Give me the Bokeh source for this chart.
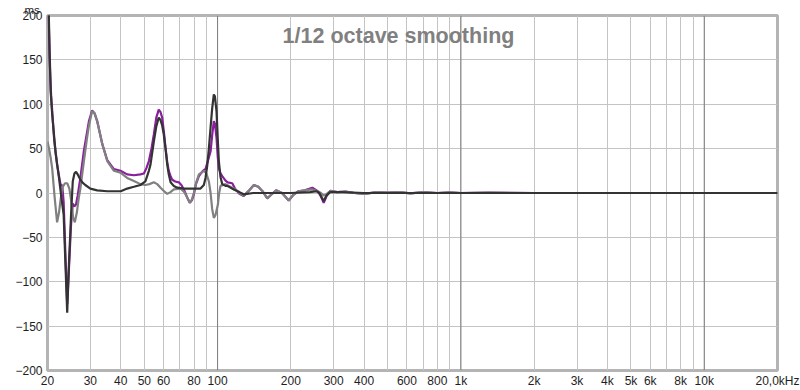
from bokeh.plotting import figure
from bokeh.models import Range1d, FixedTicker, Span, Label, Title
from bokeh.embed import file_html
from bokeh.resources import INLINE

# ---- data ----
purple_hz = [20.0, 20.4, 20.7, 21.0, 21.3, 21.9, 22.6, 23.0, 23.3, 23.7, 24.1, 24.5, 25.0, 25.4, 25.8, 26.2, 26.6,
             27.3, 28.2, 29.6, 30.5, 31.2, 32.0, 33.6, 35.2, 37.5, 39.9, 42.5, 45.3, 48.2, 49.8, 51.0, 52.2, 53.5,
             54.7, 56.0, 57.3, 58.3, 59.2, 60.1, 61.1, 62.1, 63.0, 64.1, 65.1, 67.0, 69.3, 71.0, 72.7, 75.0, 76.9,
             78.5, 79.9, 81.5, 83.8, 87.0, 89.2, 91.0, 93.6, 95.0, 96.5, 97.5, 99.0, 100.2, 101.2, 102.8, 104.5,
             107.8, 110, 114.9, 118.5, 123, 128, 135, 141, 147, 153, 160, 166, 174, 184, 196, 205, 215, 228, 245,
             258, 266, 273, 281, 291, 310, 336, 365, 402, 450, 500, 560, 620, 700, 800, 900, 1000, 1300, 2000, 20000]
purple_ms = [260, 150, 110, 85, 60, 32, 10, 8, -10, -70, -125, -85, -35, -12, -15, -13, -3,
             17, 47, 81, 93, 90, 81, 55, 37, 27, 25, 21, 20, 21, 22, 28, 36, 50,
             66, 85, 94, 91, 85, 70, 51, 35, 25, 19, 15, 13, 12, 9, 4, -5, -11,
             -8, -1.5, 10, 19, 25, 27, 35, 47, 65, 81, 78, 62, 40, 28, 22, 19,
             14, 12, 11, 4, -1, -3.5, 3, 9, 7, 2, -6, -2, 3, 0, -8.5, -2, 2, 3, 6,
             2, -4, -11, -3, 2.5, 1, 1.5, 0, -1, 1, 0.5, 1, -0.5, 1, 0, 0.8, 0, 0.5, 0, 0]

grey_hz = [20.0, 20.3, 20.6, 20.9, 21.4, 21.9, 22.3, 22.7, 23.0, 23.6, 24.1, 24.6, 25.0, 25.5, 25.9, 26.4, 26.9,
           27.3, 28.2, 29.0, 29.6, 30.5, 31.2, 32.0, 33.6, 35.2, 37.5, 39.9, 42.5, 45.3, 48.2, 50.5, 52.5, 54.7,
           56.5, 58.3, 60.3, 62.1, 64.0, 66.1, 70.4, 73.0, 75.0, 76.9, 78.5, 79.9, 81.7, 83.8, 87.8, 90.0, 92.1,
           93.6, 95.0, 96.5, 98.0, 100.3, 101.5, 102.8, 107.8, 114.9, 118.5, 123, 128, 135, 141, 147, 153, 160,
           166, 174, 184, 196, 205, 215, 228, 245, 258, 266, 273, 281, 291, 310, 336, 365, 402, 450, 500, 560,
           620, 700, 800, 900, 1000, 1300, 2000, 20000]
grey_ms = [58, 50, 40, 28, -5, -33, -22, -5, 6, 11, 11, 5, -8, -28, -33, -22, -5,
           5, 35, 60, 76, 92, 90, 81, 55, 36, 25, 23, 17, 13.5, 10, 9, 10, 12,
           10, 6, 2, -1, 1, 4, 5, 1, -5, -11, -7, 0, 12, 21, 25, 22, 13,
           0, -18, -28, -25, -13, 0, 8, 10, 6, 4, 0, -3, 3, 9, 7, 2, -6,
           -2, 3, 0, -8.5, -2, 2, 3, 4, 2, 0, -3, -1, 2.5, 1, 1.5, 0, -1, 1, 0.5, 1,
           -0.5, 1, 0, 0.8, 0, 0.5, 0, 0]

dark_hz = [20.0, 20.6, 20.9, 21.2, 21.6, 22.3, 22.8, 23.3, 23.7, 24.1, 24.5, 25.0, 25.4, 25.8, 26.2, 26.6, 27.3,
           27.8, 28.6, 30.0, 32.0, 35.2, 40.0, 42.5, 45.3, 48.2, 50.5, 52.2, 53.0, 54.7, 56.0, 57.3, 58.3, 59.2,
           60.1, 61.1, 62.1, 63.0, 64.1, 66.1, 68.3, 72.7, 80.0, 85.1, 87.8, 89.2, 90.6, 92.1, 93.6, 95.0, 96.5,
           97.5, 99.0, 100.2, 101.2, 102.8, 104.5, 107.8, 109.6, 116.6, 123, 128, 140, 200, 240, 255, 262, 268,
           273, 280, 290, 320, 400, 20000]
dark_ms = [260, 115, 89, 70, 45, 17, -5, -24, -80, -135, -80, -24, 13, 22, 24, 21, 15,
           12, 9, 5, 3, 2, 2, 5, 7, 9, 13, 25, 32, 58, 75, 85, 82, 76,
           66, 50, 32, 21, 12, 8, 6, 5, 5, 5, 9, 17, 30, 50, 74, 95, 111,
           109, 92, 60, 36, 18, 10, 8, 8, 4, 1, -1.5, 0, 0, 1, 2, 0, -5,
           -9, -3, 1, 1, 0, 0]

major_ticks = [20, 30, 40, 50, 60, 80, 100, 200, 300, 400, 600, 800, 1000, 2000, 3000, 4000, 5000, 6000,
               8000, 10000, 20000]
major_labels = ["20", "30", "40", "50", "60", "80", "100", "200", "300", "400", "600", "800", "1k", "2k", "3k",
                "4k", "5k", "6k", "8k", "10k", "20,0kHz"]
minor_ticks = [70, 90, 500, 700, 900, 7000, 9000]
dark_lines = [100, 1000, 10000]
y_ticks = [-200, -150, -100, -50, 0, 50, 100, 150, 200]
title_text = "1/12 octave smoothing"
unit_text = "ms"

p = figure(width=800, height=390, x_axis_type="log", output_backend="svg", toolbar_location=None,
           x_range=Range1d(20, 20000), y_range=Range1d(-200, 200),
           min_border_left=47, min_border_right=23, min_border_top=15, min_border_bottom=20)
p.background_fill_color = "white"
p.border_fill_color = "white"
p.outline_line_color = "#b4b4b4"
p.outline_line_width = 3

p.xaxis.ticker = FixedTicker(ticks=major_ticks, minor_ticks=minor_ticks)
p.xaxis.major_label_overrides = {t: l for t, l in zip(major_ticks, major_labels)}
p.yaxis.ticker = FixedTicker(ticks=y_ticks)
for ax in (p.xaxis[0], p.yaxis[0]):
    ax.axis_line_color = None
    ax.major_tick_line_color = None
    ax.minor_tick_line_color = None
    ax.major_label_text_font = "Liberation Sans"
    ax.major_label_text_font_size = "12px"
    ax.major_label_text_color = "#1e1e1e"
    ax.major_tick_in = 0
    ax.major_tick_out = 0
    ax.minor_tick_in = 0
    ax.minor_tick_out = 0
    ax.axis_label_standoff = 0
p.xaxis.major_label_standoff = 3
p.yaxis.major_label_standoff = 5

p.xgrid.grid_line_color = "#c4c4c4"
p.xgrid.minor_grid_line_color = "#c4c4c4"
p.ygrid.grid_line_color = "#c4c4c4"

for loc in dark_lines:
    p.add_layout(Span(location=loc, dimension="height", line_color="#7c7c7c", line_width=1, level="underlay"))

p.line(purple_hz, purple_ms, line_color="#8a1f9e", line_width=2.2)
p.line(grey_hz, grey_ms, line_color="#808080", line_width=2.2)
p.line(dark_hz, dark_ms, line_color="#333333", line_width=2.2)

p.add_layout(Label(x=554, y=200, y_offset=-20, text=title_text, text_align="center",
                   text_baseline="alphabetic", text_font="Liberation Sans", text_font_style="bold",
                   text_font_size="21.5px", text_color="#808080"))
p.add_layout(Title(text=unit_text, align="left", offset=-23, standoff=0, text_font="Liberation Sans",
                   text_font_size="11.5px", text_font_style="normal", text_color="#1e1e1e",
                   vertical_align="bottom"), "above")

open("out.html", "w").write(file_html(p, INLINE))
